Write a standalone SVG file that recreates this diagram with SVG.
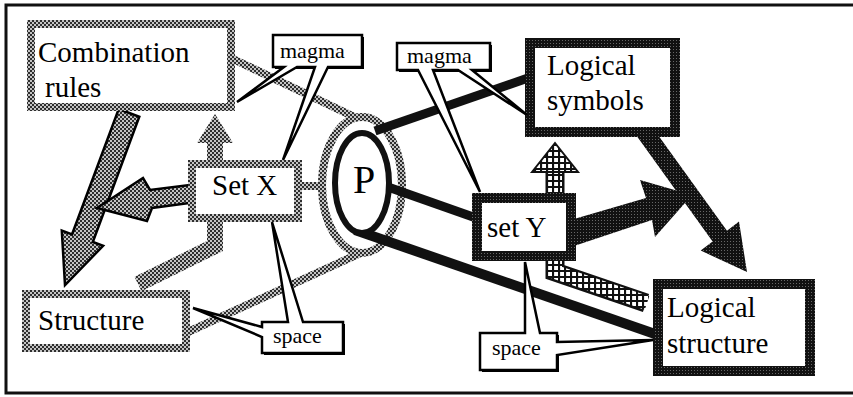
<svg xmlns="http://www.w3.org/2000/svg" width="853" height="397" viewBox="0 0 853 397">
<defs>
<pattern id="gray" width="4" height="4" patternUnits="userSpaceOnUse"><rect width="4" height="4" fill="#c4c4c4"/><rect width="2" height="2" fill="#2e2e2e"/><rect x="2" y="2" width="2" height="2" fill="#2e2e2e"/></pattern>
<pattern id="dark" width="3" height="3" patternUnits="userSpaceOnUse"><rect width="3" height="3" fill="#111"/><rect x="1" y="1" width="1" height="1" fill="#666"/></pattern>
<pattern id="hatch" width="6" height="6" patternUnits="userSpaceOnUse"><rect width="6" height="6" fill="#fff"/><path d="M0,1H6M1,0V6" stroke="#111" stroke-width="2.2"/></pattern>
</defs>
<style>
.big{font-family:"Liberation Serif","Times New Roman",serif;font-size:29px;fill:#000}
.small{font-family:"Liberation Serif","Times New Roman",serif;font-size:22px;fill:#000}
.gbox{fill:#fff;stroke:url(#gray);stroke-width:8}
.dbox{fill:#fff;stroke:url(#dark);stroke-width:10}
.bl{stroke:#111;fill:none}
.call{fill:#fff;stroke:#000;stroke-width:2.5;stroke-linejoin:miter}
.shadow{fill:#000}
</style>
<rect x="6" y="5" width="870" height="388" fill="#fff" stroke="#111" stroke-width="3"/>

<g id="connectors">
  <line x1="233" y1="59" x2="390" y2="134" stroke="url(#gray)" stroke-width="8"/>
  <line x1="188" y1="332" x2="378" y2="245" stroke="url(#gray)" stroke-width="8"/>
  <line x1="300" y1="186" x2="324" y2="186" stroke="url(#gray)" stroke-width="8"/>
  <ellipse cx="362" cy="185" rx="40" ry="68" fill="#fff" stroke="url(#gray)" stroke-width="8"/>
  <line x1="375" y1="131" x2="528" y2="78" class="bl" stroke-width="9"/>
  <line x1="388" y1="187" x2="476" y2="218" class="bl" stroke-width="9"/>
  <line x1="355" y1="230" x2="655" y2="334" class="bl" stroke-width="10"/>
  <polygon points="118.7,109 139.3,116.8 92.8,242 103.1,245.8 65,285 61.8,230.5 72.1,234.3" fill="url(#gray)" stroke="#000" stroke-width="2.5" stroke-linejoin="miter"/>
  <polygon points="190,185 150,190 143,178 97,208 147,221 152,208 190,203" fill="url(#gray)" stroke="#000" stroke-width="2.5"/>
  <polyline points="138,284 215,246 215,142" fill="none" stroke="url(#gray)" stroke-width="16" stroke-linejoin="miter"/>
  <polygon points="197,143 215,114 233,143" fill="url(#gray)"/>
  <polyline points="646,303 555,272 555,171" fill="none" stroke="#111" stroke-width="19" stroke-linejoin="miter"/>
  <polyline points="647,303 555,272 555,170" fill="none" stroke="url(#hatch)" stroke-width="14" stroke-linejoin="miter"/>
  <polygon points="532,172 555,143 578,172" fill="url(#hatch)" stroke="#111" stroke-width="2"/>
  <polygon points="574,219 646,198 640,180 692,195 655,237 652,220 574,246" fill="url(#dark)"/>
  <polygon points="636,135 658,135 727,230.7 739,221.6 747,272 700.7,250.6 712.6,241.5" fill="url(#dark)"/>
</g>

<g id="combination-rules">
  <rect x="31" y="24" width="200" height="83" class="gbox"/>
  <text x="38" y="62" class="big">Combination</text>
  <text x="45" y="97" class="big">rules</text>
</g>
<g id="structure">
  <rect x="26" y="294" width="160" height="54" class="gbox"/>
  <text x="38" y="330" class="big">Structure</text>
</g>
<g id="set-x">
  <rect x="192" y="164" width="106" height="54" class="gbox"/>
  <text x="212" y="195" class="big">Set X</text>
</g>
<g id="p">
  <ellipse cx="362" cy="183" rx="27" ry="50" fill="#fff" stroke="#111" stroke-width="6"/>
  <text x="364" y="193" class="big" style="font-size:40px" text-anchor="middle">P</text>
</g>
<g id="logical-symbols">
  <rect x="530" y="43" width="145" height="89" class="dbox"/>
  <text x="547" y="75" class="big">Logical</text>
  <text x="547" y="110" class="big">symbols</text>
</g>
<g id="set-y">
  <rect x="477" y="198" width="94" height="58" class="dbox"/>
  <text x="487" y="237" class="big">set Y</text>
</g>
<g id="logical-structure">
  <rect x="658" y="284" width="152" height="87" class="dbox"/>
  <text x="667" y="317" class="big">Logical</text>
  <text x="667" y="353" class="big">structure</text>
</g>

<g id="magma-left">
  <path class="shadow" d="M275,37 H364 V69 H275 Z"/>
  <path class="call" d="M273,35 H362 V67 H328 L283,160 L315,67 H297 L237,102 L284,67 H273 Z"/>
  <text x="280" y="58" class="small">magma</text>
</g>
<g id="magma-right">
  <path class="shadow" d="M399,45 H492 V72 H399 Z"/>
  <path class="call" d="M397,43 H490 V70 H472 L527,115 L458,70 H433 L480,192 L418,70 H397 Z"/>
  <text x="407" y="63" class="small">magma</text>
</g>
<g id="space-left">
  <path class="shadow" d="M264,324 H345 V355 H264 Z"/>
  <path class="call" d="M262,322 H288 L272,222 L303,322 H343 V353 H262 V337 L193,308 L262,327 Z"/>
  <text x="273" y="343" class="small">space</text>
</g>
<g id="space-right">
  <path class="shadow" d="M482,335 H559 V372 H482 Z"/>
  <path class="call" d="M480,333 H525 L525,262 L540,333 H557 V342 L653,340 L557,355 V370 H480 Z"/>
  <text x="492" y="355" class="small">space</text>
</g>
</svg>
